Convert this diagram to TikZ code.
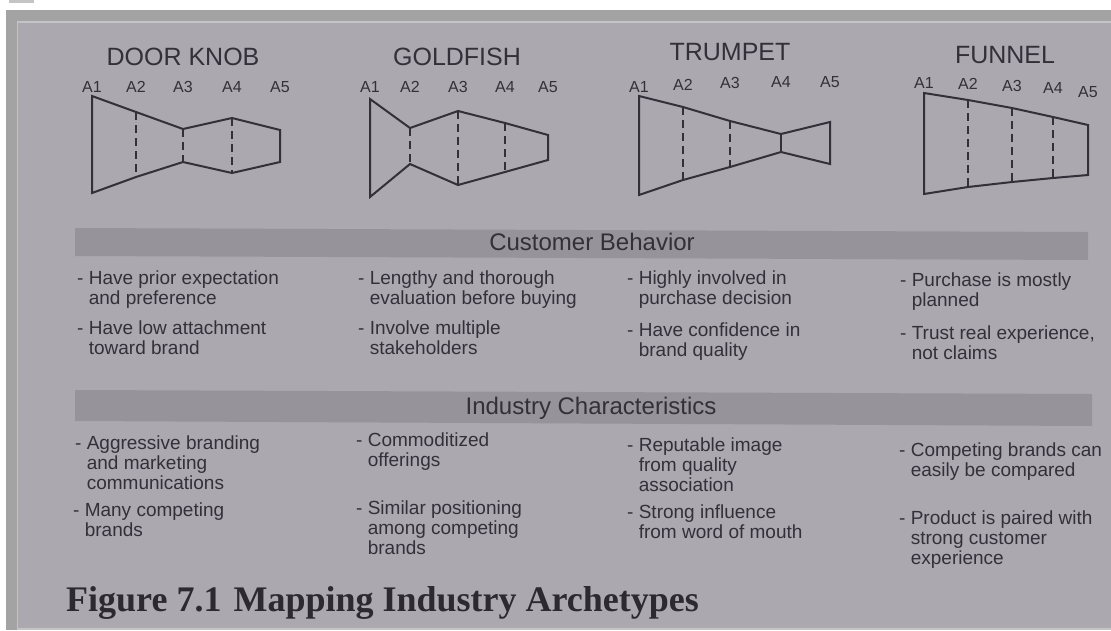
\documentclass[tikz,border=0pt]{standalone}
\usepackage{fontspec}
\setmainfont{Liberation Sans}
\newfontfamily\capfont{Liberation Serif}
\definecolor{pagelight}{HTML}{ACA8B0}
\definecolor{pagemid}{HTML}{948F99}
\definecolor{pagedark}{HTML}{615C67}
\definecolor{framegray}{HTML}{A3A3A3}
\definecolor{framelight}{HTML}{C4C4C4}
\definecolor{ink}{HTML}{34303A}
\pgfdeclareradialshading{photo}{\pgfpoint{0bp}{0bp}}{color(0bp)=(pagelight); color(28bp)=(pagelight); color(50bp)=(pagemid); color(70bp)=(pagedark)}
\newcommand{\dashind}{\hphantom{- }}
\tikzset{
  archtitle/.style={font=\fontsize{25}{25}\selectfont, text=ink, inner sep=0pt},
  alabel/.style={font=\fontsize{16}{16}\selectfont, text=ink, inner sep=0pt},
  outline/.style={draw=ink, line width=2pt, line join=miter},
  divider/.style={draw=ink, line width=2pt, dash pattern=on 8pt off 5pt},
  band/.style={fill=black, fill opacity=0.12},
  bandtitle/.style={font=\fontsize{24}{24}\selectfont, text=ink, inner sep=0pt, anchor=base},
  item/.style={anchor=north west, inner sep=0pt, align=left, font=\fontsize{19}{20}\selectfont, text=ink},
}
\begin{document}
\begin{tikzpicture}[x=1pt,y=-1pt]
    \useasboundingbox (0,0) rectangle (1111,630);
    \fill [white] (0,0) rectangle (1111,630);
    \fill [framelight] (9,0) rectangle (34,3);
    \fill [framegray] (6,10) rectangle (1111,630);
    \fill [framelight] (17,21) rectangle (1111,630);
    \begin{scope}
      \clip (18,23) rectangle (1111,627);
      \shade [shading=photo] (-220,-60) rectangle (1330,800);
    \end{scope}
    \node [archtitle] (dk) at (183,57) {DOOR KNOB};
    \node [archtitle] (gf) at (457,57) {GOLDFISH};
    \node [archtitle] (tp) at (730,52) {TRUMPET};
    \node [archtitle] (fn) at (1005,55) {FUNNEL};
    \foreach \i/\x/\t/\b/\l in {1/92/96/193/87, 2/136/112/177/87, 3/183/129/162/87, 4/232/118/173/87, 5/280/130/162/87} {
      \coordinate (dk\i t) at (\x,\t);
      \coordinate (dk\i b) at (\x,\b);
      \node [alabel] (dkA\i) at (\x,\l) {A\i};
    }
    \foreach \i/\x/\t/\b/\l in {1/370/99/197/87, 2/410/128/164/87, 3/458/111/185/87, 4/505/123/172/87, 5/548/135/160/87} {
      \coordinate (gf\i t) at (\x,\t);
      \coordinate (gf\i b) at (\x,\b);
      \node [alabel] (gfA\i) at (\x,\l) {A\i};
    }
    \foreach \i/\x/\t/\b/\l in {1/639/96/195/87, 2/683/107/180/85, 3/730/121/167/83, 4/781/134/152/82, 5/830/122/164/82} {
      \coordinate (tp\i t) at (\x,\t);
      \coordinate (tp\i b) at (\x,\b);
      \node [alabel] (tpA\i) at (\x,\l) {A\i};
    }
    \foreach \i/\x/\t/\b/\l in {1/924/93/194/83, 2/968/100/187/84, 3/1012/108/182/86, 4/1053/117/178/88, 5/1088/125/175/92} {
      \coordinate (fn\i t) at (\x,\t);
      \coordinate (fn\i b) at (\x,\b);
      \node [alabel] (fnA\i) at (\x,\l) {A\i};
    }
    \draw [outline] (dk1t) -- (dk2t) -- (dk3t) -- (dk4t) -- (dk5t) -- (dk5b) -- (dk4b) -- (dk3b) -- (dk2b) -- (dk1b) -- cycle;
    \draw [outline] (gf1t) -- (gf2t) -- (gf3t) -- (gf4t) -- (gf5t) -- (gf5b) -- (gf4b) -- (gf3b) -- (gf2b) -- (gf1b) -- cycle;
    \draw [outline] (tp1t) -- (tp2t) -- (tp3t) -- (tp4t) -- (tp5t) -- (tp5b) -- (tp4b) -- (tp3b) -- (tp2b) -- (tp1b) -- cycle;
    \draw [outline] (fn1t) -- (fn2t) -- (fn3t) -- (fn4t) -- (fn5t) -- (fn5b) -- (fn4b) -- (fn3b) -- (fn2b) -- (fn1b) -- cycle;
    \foreach \i in {2,3,4} {
      \draw [divider] (dk\i t) -- (dk\i b);
      \draw [divider] (gf\i t) -- (gf\i b);
      \draw [divider] (fn\i t) -- (fn\i b);
    }
    \draw [divider] (tp2t) -- (tp2b);
    \draw [divider] (tp3t) -- (tp3b);
    \draw [outline] (tp4t) -- (tp4b);
    \coordinate (cbnw) at (75,228);
    \coordinate (cbne) at (1088,232);
    \coordinate (cbse) at (1088,260);
    \coordinate (cbsw) at (75,256);
    \fill [band] (cbnw) -- (cbne) -- (cbse) -- (cbsw) -- cycle;
    \node [bandtitle] (cb) at (592,250.5) {Customer Behavior};
    \node [item] (cb11) at (77,271) {- Have prior expectation\\\dashind and preference};
    \node [item] (cb12) at (77,321) {- Have low attachment\\\dashind toward brand};
    \node [item] (cb21) at (358,271) {- Lengthy and thorough\\\dashind evaluation before buying};
    \node [item] (cb22) at (358,321) {- Involve multiple\\\dashind stakeholders};
    \node [item] (cb31) at (627,271) {- Highly involved in\\\dashind purchase decision};
    \node [item] (cb32) at (627,323) {- Have confidence in\\\dashind brand quality};
    \node [item] (cb41) at (900,273) {- Purchase is mostly\\\dashind planned};
    \node [item] (cb42) at (900,326) {- Trust real experience,\\\dashind not claims};
    \coordinate (icnw) at (75,390);
    \coordinate (icne) at (1092,394);
    \coordinate (icse) at (1092,426);
    \coordinate (icsw) at (75,421);
    \fill [band] (icnw) -- (icne) -- (icse) -- (icsw) -- cycle;
    \node [bandtitle] (ic) at (591,414.5) {Industry Characteristics};
    \node [item] (ic11) at (75,436) {- Aggressive branding\\\dashind and marketing\\\dashind communications};
    \node [item] (ic12) at (73,503) {- Many competing\\\dashind brands};
    \node [item] (ic21) at (356,433) {- Commoditized\\\dashind offerings};
    \node [item] (ic22) at (356,501) {- Similar positioning\\\dashind among competing\\\dashind brands};
    \node [item] (ic31) at (627,438) {- Reputable image\\\dashind from quality\\\dashind association};
    \node [item] (ic32) at (627,505) {- Strong influence\\\dashind from word of mouth};
    \node [item] (ic41) at (899,443) {- Competing brands can\\\dashind easily be compared};
    \node [item] (ic42) at (899,511) {- Product is paired with\\\dashind strong customer\\\dashind experience};
    \node [anchor=base west, inner sep=0pt, text=ink!85!black, font=\capfont\bfseries\fontsize{36}{36}\selectfont] (fig) at (66,611) {Figure 7.1\hspace{12pt}Mapping Industry Archetypes};
  \end{tikzpicture}
\end{document}
